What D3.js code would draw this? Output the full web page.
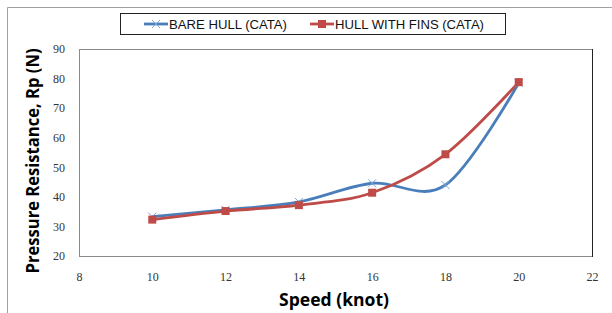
<!DOCTYPE html>
<html>
<head>
<meta charset="utf-8">
<script src="https://cdn.jsdelivr.net/npm/d3@7"></script>
<style>
  body { margin: 0; background: #fff; }
  svg { display: block; }
</style>
</head>
<body>
<svg id="canvas" width="612" height="313"></svg>
<script>
// chart data
var speeds = [10, 12, 14, 16, 18, 20];
var bareHull = [33.3, 35.6, 38.3, 44.6, 44.0, 78.5];
var hullFins = [32.3, 35.2, 37.2, 41.4, 54.4, 78.8];
var seriesNames = ['BARE HULL (CATA)', 'HULL WITH FINS (CATA)'];
var xTicks = [8, 10, 12, 14, 16, 18, 20, 22];
var yTicks = [20, 30, 40, 50, 60, 70, 80, 90];

var blue = '#4a7ebb', red = '#be4b48';

var svg = d3.select('svg#canvas');

// outer frame (chart area)
svg.append('path')
  .attr('d', 'M7.5,313 L7.5,7.5 L612,7.5')
  .attr('fill', 'none')
  .attr('stroke', '#a0a0a0')
  .attr('stroke-width', 1);

var x = d3.scaleLinear().domain([8, 22]).range([79, 592]);
var y = d3.scaleLinear().domain([20, 90]).range([256, 49]);

// plot area border
svg.append('rect')
  .attr('x', x(8) + 0.5).attr('y', y(90) + 0.5)
  .attr('width', x(22) - x(8)).attr('height', y(20) - y(90))
  .attr('fill', 'none')
  .attr('stroke', '#8a8a8a');
svg.append('line')
  .attr('x1', x(22) + 0.5).attr('x2', x(22) + 0.5)
  .attr('y1', y(90)).attr('y2', y(20) + 1)
  .attr('stroke', '#222');

// axes (labels only, no tick marks)
var tickFont = '"Liberation Serif", "DejaVu Serif", serif';
var xAxis = svg.append('g')
  .attr('transform', 'translate(0,' + y(20) + ')')
  .call(d3.axisBottom(x).tickValues(xTicks).tickSize(0).tickPadding(16));
var yAxis = svg.append('g')
  .attr('transform', 'translate(' + x(8) + ',0)')
  .call(d3.axisLeft(y).tickValues(yTicks).tickSize(0).tickPadding(14));
[xAxis, yAxis].forEach(function(g) {
  g.select('.domain').remove();
  g.selectAll('text')
    .attr('font-family', tickFont)
    .attr('font-size', 12)
    .attr('fill', '#333');
});

// axis titles
svg.append('text')
  .attr('x', 334).attr('y', 306)
  .attr('text-anchor', 'middle')
  .attr('font-family', '"Open Sans", sans-serif')
  .attr('font-weight', 'bold')
  .attr('font-size', 17)
  .attr('textLength', 110)
  .attr('lengthAdjust', 'spacingAndGlyphs')
  .text('Speed (knot)');

svg.append('text')
  .attr('transform', 'translate(39,161) rotate(-90)')
  .attr('text-anchor', 'middle')
  .attr('font-family', '"Open Sans", sans-serif')
  .attr('font-weight', 'bold')
  .attr('font-size', 17)
  .attr('textLength', 225)
  .attr('lengthAdjust', 'spacingAndGlyphs')
  .text('Pressure Resistance, Rp (N)');

// smoothed lines
var line = d3.line()
  .x(function(d) { return x(d[0]); })
  .y(function(d) { return y(d[1]); })
  .curve(d3.curveCardinal.tension(0));

var bareData = speeds.map(function(s, i) { return [s, bareHull[i]]; });
var finsData = speeds.map(function(s, i) { return [s, hullFins[i]]; });

svg.append('path')
  .datum(bareData)
  .attr('d', line)
  .attr('fill', 'none')
  .attr('stroke', blue)
  .attr('stroke-width', 2.8);

svg.append('path')
  .datum(finsData)
  .attr('d', line)
  .attr('fill', 'none')
  .attr('stroke', red)
  .attr('stroke-width', 2.8);

// markers
function crossMarker(g, cx, cy) {
  g.append('path')
    .attr('d', 'M' + (cx - 4) + ',' + (cy - 4) + 'L' + (cx + 4) + ',' + (cy + 4) +
               'M' + (cx - 4) + ',' + (cy + 4) + 'L' + (cx + 4) + ',' + (cy - 4))
    .attr('stroke', '#7fa6d6')
    .attr('stroke-width', 1)
    .attr('fill', 'none');
}
var bareMarks = svg.append('g');
bareData.forEach(function(d) { crossMarker(bareMarks, x(d[0]), y(d[1])); });

svg.append('g').selectAll('rect')
  .data(finsData)
  .enter().append('rect')
  .attr('x', function(d) { return x(d[0]) - 4; })
  .attr('y', function(d) { return y(d[1]) - 4; })
  .attr('width', 8).attr('height', 8)
  .attr('fill', red);

// legend
var legend = svg.append('g');
legend.append('rect')
  .attr('x', 120.5).attr('y', 13.5)
  .attr('width', 385).attr('height', 21)
  .attr('fill', '#fff')
  .attr('stroke', '#222');

legend.append('line')
  .attr('x1', 144).attr('x2', 168).attr('y1', 24).attr('y2', 24)
  .attr('stroke', blue).attr('stroke-width', 2.8);
crossMarker(legend, 156, 24);
legend.append('text')
  .attr('x', 169).attr('y', 28.5)
  .attr('font-family', '"Liberation Sans", Arial, sans-serif')
  .attr('font-size', 12.5)
  .attr('textLength', 118)
  .attr('lengthAdjust', 'spacingAndGlyphs')
  .attr('fill', '#111')
  .text(seriesNames[0]);

legend.append('line')
  .attr('x1', 310).attr('x2', 334).attr('y1', 24).attr('y2', 24)
  .attr('stroke', red).attr('stroke-width', 2.8);
legend.append('rect')
  .attr('x', 318).attr('y', 20).attr('width', 8).attr('height', 8)
  .attr('fill', red);
legend.append('text')
  .attr('x', 335).attr('y', 28.5)
  .attr('font-family', '"Liberation Sans", Arial, sans-serif')
  .attr('font-size', 12.5)
  .attr('textLength', 149)
  .attr('lengthAdjust', 'spacingAndGlyphs')
  .attr('fill', '#111')
  .text(seriesNames[1]);
</script>
</body>
</html>
